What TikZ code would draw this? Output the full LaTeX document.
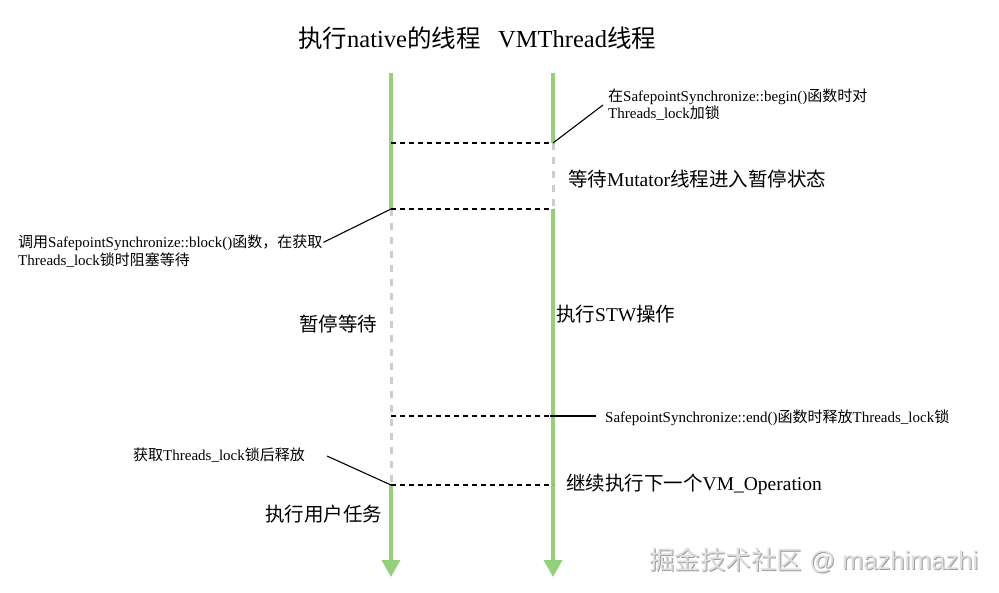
\documentclass[tikz,border=0pt]{standalone}
\usepackage{fontspec}
\setmainfont{Liberation Serif}
\newfontfamily\cjk{Noto Sans CJK SC}
\newfontfamily\wmfont{Liberation Sans}
\usetikzlibrary{arrows.meta}
\definecolor{lifegreen}{RGB}{146,208,122}
\definecolor{waitgray}{RGB}{205,205,205}
\newcommand\zh[1]{{\cjk #1}}
\begin{document}
\begin{tikzpicture}[x=1pt,y=-1pt,
  life/.style={draw=lifegreen,line width=3.5pt},
  wait/.style={draw=waitgray,line width=3pt,dash pattern=on 7pt off 7pt},
  sync/.style={draw=black,line width=1.3pt,dash pattern=on 5pt off 4pt},
  lead/.style={draw=black,line width=1.1pt},
  endarrow/.style={-{Triangle[width=18pt,length=17pt]}},
  lbl/.style={anchor=base west,inner sep=0pt,font=\fontsize{19.5}{22}\selectfont},
  note/.style={anchor=base west,inner sep=0pt,font=\fontsize{15}{18}\selectfont},
  ttl/.style={anchor=base west,inner sep=0pt,font=\fontsize{24.5}{28}\selectfont},
  wm/.style={anchor=base west,inner sep=0pt,font=\wmfont\fontsize{25.5}{28}\selectfont}]
\fill[white] (0,0) rectangle (999,592);
\useasboundingbox (0,0) rectangle (999,592);

% lifeline points
\coordinate (Ltop) at (391,73);
\coordinate (L1) at (391,143);
\coordinate (Lb) at (391,209);
\coordinate (Ls) at (391,416);
\coordinate (Lr) at (391,485);
\coordinate (Lend) at (391,577);
\coordinate (Rtop) at (553,73);
\coordinate (Rs) at (553,143);
\coordinate (Rw) at (553,209);
\coordinate (Rx) at (553,416);
\coordinate (Rr) at (553,485);
\coordinate (Rend) at (553,577);

% lifelines
\draw[life] (Ltop) -- (Lb);
\draw[wait] (Lb) -- (Lr);
\draw[life,endarrow] (Lr) -- (Lend);
\draw[life] (Rtop) -- (Rs);
\draw[wait] (Rs) -- (Rw);
\draw[life,endarrow] (Rw) -- (Rend);

% sync lines
\draw[sync] (L1) -- (Rs);
\draw[sync] (Lb) -- (Rw);
\draw[sync] (Ls) -- (Rx);
\draw[sync] (Lr) -- (Rr);

% titles
\node[ttl] (t1) at (298,47) {\zh{执行}native\zh{的线程}};
\node[ttl] (t2) at (498,47) {VMThread\zh{线程}};

% notes
\node[note] (nb1) at (608,101) {\zh{在}SafepointSynchronize::begin()\zh{函数时对}};
\node[note] (nb2) at (608,118) {Threads\_lock\zh{加锁}};
\coordinate (nbp) at (603,105);
\draw[lead] (Rs) -- (nbp);

\node[note] (nk1) at (18,247) {\zh{调用}SafepointSynchronize::block()\zh{函数，在获取}};
\node[note] (nk2) at (18,265) {Threads\_lock\zh{锁时阻塞等待}};
\draw[lead] ([xshift=1pt]nk1.east) -- (Lb);

\node[note] (ne) at (605,422) {SafepointSynchronize::end()\zh{函数时释放}Threads\_lock\zh{锁}};
\coordinate (nep) at (596,416);
\draw[lead] ([xshift=-3pt]Rx) -- (nep);

\node[note] (nr) at (133,460) {\zh{获取}Threads\_lock\zh{锁后释放}};
\coordinate (nrp) at (327,456);
\draw[lead] (nrp) -- (Lr);

% phase labels
\node[lbl] (w1) at (568,186) {\zh{等待}Mutator\zh{线程进入暂停状态}};
\node[lbl] (w2) at (299,331) {\zh{暂停等待}};
\node[lbl] (w3) at (556,321) {\zh{执行}STW\zh{操作}};
\node[lbl] (w4) at (566,490) {\zh{继续执行下一个}VM\_Operation};
\node[lbl] (w5) at (265,521) {\zh{执行用户任务}};

% watermark
\node[wm,text=gray!75] (wms) at (650,570) {\zh{掘金技术社区} @ mazhimazhi};
\node[wm,text=gray!25] (wmf) at (649,569) {\zh{掘金技术社区} @ mazhimazhi};
\end{tikzpicture}
\end{document}
